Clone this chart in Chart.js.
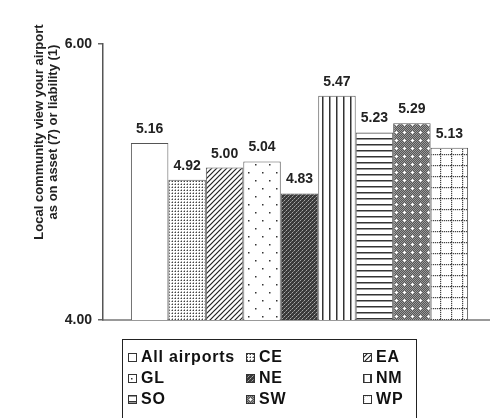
<!DOCTYPE html>
<html>
<head>
<meta charset="utf-8">
<script src="https://cdn.jsdelivr.net/npm/chart.js@4.4.0/dist/chart.umd.min.js"></script>
<style>
  html, body { margin: 0; padding: 0; background: #fff; overflow: hidden; width: 490px; height: 418px; }
  #wrap { position: relative; width: 500px; height: 418px; }
  #legend { position: absolute; left: 122px; top: 339px; width: 295px; height: 100px; border: 1px solid #222; box-sizing: border-box; }
  .item { position: absolute; font: bold 16px "Liberation Sans", Arial, sans-serif; letter-spacing: 0.8px; color: #111; white-space: nowrap; line-height: 18px; }
  .item canvas { position: absolute; left: 0; top: 5px; }
  .item span { position: absolute; left: 13px; top: 0; }
</style>
</head>
<body>
<div id="wrap">
  <canvas id="chart" width="500" height="418"></canvas>
  <div id="legend"></div>
</div>
<script>
const categories = [''];
const seriesNames = ['All airports', 'CE', 'EA', 'GL', 'NE', 'NM', 'SO', 'SW', 'WP'];
const seriesValues = [5.16, 4.92, 5.00, 5.04, 4.83, 5.47, 5.23, 5.29, 5.13];
const yTickLabels = ['4.00', '6.00'];
// the source figure puts its "6.00" mark where the bars' own scale is at about 5.81
const yMin = 4;
const yMax = 5.81;

// legend grid order (3 columns), by series index
const legendOrder = [0, 1, 2, 3, 4, 5, 6, 7, 8];

function tile(w, h, draw) {
    const c = document.createElement('canvas');
    c.width = w; c.height = h;
    const g = c.getContext('2d');
    g.fillStyle = '#fff';
    g.fillRect(0, 0, w, h);
    draw(g, w, h);
    return c;
}

const tiles = [
    // All airports: plain white
    tile(4, 4, () => {}),
    // CE: fine stipple
    tile(3, 3, g => {
        g.fillStyle = '#444'; g.fillRect(1, 1, 1, 1);
        g.fillStyle = '#aaa'; g.fillRect(0, 1, 1, 1); g.fillRect(1, 0, 1, 1);
    }),
    // EA: diagonal lines
    tile(5, 5, g => {
        g.strokeStyle = '#222'; g.lineWidth = 1.2;
        g.beginPath();
        g.moveTo(-1, 6); g.lineTo(6, -1);
        g.moveTo(-1, 1); g.lineTo(1, -1);
        g.moveTo(4, 6); g.lineTo(6, 4);
        g.stroke();
    }),
    // GL: sparse dots
    tile(14, 16, g => {
        g.fillStyle = '#333';
        g.fillRect(3, 4, 1.5, 1.5);
        g.fillRect(10, 12, 1.5, 1.5);
    }),
    // NE: dark weave
    tile(4, 4, g => {
        g.fillStyle = '#3a3a3a'; g.fillRect(0, 0, 4, 4);
        g.fillStyle = '#aaa'; g.fillRect(0, 0, 1, 1); g.fillRect(2, 2, 1, 1);
        g.fillStyle = '#777'; g.fillRect(1, 3, 1, 1); g.fillRect(3, 1, 1, 1);
    }),
    // NM: vertical lines
    tile(7, 2, g => {
        g.fillStyle = '#333'; g.fillRect(0, 0, 1.5, 2);
    }),
    // SO: horizontal lines
    tile(2, 6, g => {
        g.fillStyle = '#333'; g.fillRect(0, 0, 2, 1.5);
    }),
    // SW: grey checker with white crosses
    tile(8, 8, g => {
        for (let y = 0; y < 8; y++) {
            for (let x = 0; x < 8; x++) {
                g.fillStyle = (x + y) % 2 ? '#555' : '#999';
                g.fillRect(x, y, 1, 1);
            }
        }
        g.fillStyle = '#fff';
        g.fillRect(3, 4, 3, 1);
        g.fillRect(4, 3, 1, 3);
    }),
    // WP: dotted grid
    tile(11, 11, g => {
        g.fillStyle = '#444';
        for (let i = 0; i < 11; i += 2) {
            g.fillRect(0, i, 1.2, 1.2);
            g.fillRect(i, 0, 1.2, 1.2);
        }
    })
];

const patCtx = document.createElement('canvas').getContext('2d');
const patterns = tiles.map(t => patCtx.createPattern(t, 'repeat'));

const valueLabels = {
    id: 'valueLabels',
    afterDatasetsDraw(chart) {
        const ctx = chart.ctx;
        ctx.save();
        ctx.font = 'bold 14px "Liberation Sans", Arial, sans-serif';
        ctx.fillStyle = '#222';
        ctx.textAlign = 'center';
        ctx.textBaseline = 'alphabetic';
        chart.data.datasets.forEach((ds, i) => {
            const bar = chart.getDatasetMeta(i).data[0];
            ctx.fillText(ds.data[0].toFixed(2), bar.x, bar.y - 10);
        });
        ctx.restore();
    }
};

const yTitle = {
    id: 'yTitle',
    afterDraw(chart) {
        const ctx = chart.ctx;
        ctx.save();
        ctx.font = 'bold 13px "Liberation Sans", Arial, sans-serif';
        ctx.fillStyle = '#222';
        ctx.textAlign = 'center';
        ctx.textBaseline = 'middle';
        ctx.translate(46, 132);
        ctx.rotate(-Math.PI / 2);
        ctx.fillText('Local community view your airport', 0, -7);
        ctx.fillText('as on asset (7) or liability (1)', 0, 7);
        ctx.restore();
    }
};

new Chart(document.getElementById('chart'), {
    type: 'bar',
    data: {
        labels: categories,
        datasets: seriesNames.map((name, i) => ({
            label: name,
            data: [seriesValues[i]],
            backgroundColor: patterns[i],
            borderColor: '#555',
            borderWidth: 1,
            categoryPercentage: 0.858,
            barPercentage: 1
        }))
    },
    options: {
        responsive: false,
        animation: false,
        layout: { padding: { left: 0, top: 44, right: 4, bottom: 98 } },
        plugins: { legend: { display: false }, tooltip: { enabled: false } },
        scales: {
            x: {
                grid: { display: false },
                ticks: { display: false },
                border: { display: true, color: '#999', width: 2 },
                afterFit(s) { s.height = 0; }
            },
            y: {
                min: yMin,
                max: yMax,
                afterFit(s) { s.width = 103; },
                afterBuildTicks(s) { s.ticks = [{ value: yMin }, { value: yMax }]; },
                grid: { drawOnChartArea: false, drawTicks: true, tickLength: 5, color: '#666', lineWidth: 1.5 },
                border: { display: true, color: '#555', width: 1.5 },
                ticks: {
                    padding: 6,
                    color: '#222',
                    autoSkip: false,
                    font: { family: '"Liberation Sans", Arial, sans-serif', size: 14, weight: 'bold' },
                    callback: (v, i) => yTickLabels[i]
                }
            }
        }
    },
    plugins: [valueLabels, yTitle]
});

// legend: 3 columns x 3 rows
const legend = document.getElementById('legend');
const colX = [5, 123, 240];
const rowY = [8, 29, 50];
legendOrder.forEach((si, k) => {
    const item = document.createElement('div');
    item.className = 'item';
    item.style.left = colX[k % 3] + 'px';
    item.style.top = rowY[Math.floor(k / 3)] + 'px';
    const sw = document.createElement('canvas');
    sw.width = 9; sw.height = 9;
    const g = sw.getContext('2d');
    g.fillStyle = g.createPattern(tiles[si], 'repeat');
    g.fillRect(0, 0, 9, 9);
    g.strokeStyle = '#333';
    g.lineWidth = 1;
    g.strokeRect(0.5, 0.5, 8, 8);
    const txt = document.createElement('span');
    txt.textContent = seriesNames[si];
    item.appendChild(sw);
    item.appendChild(txt);
    legend.appendChild(item);
});
</script>
</body>
</html>
